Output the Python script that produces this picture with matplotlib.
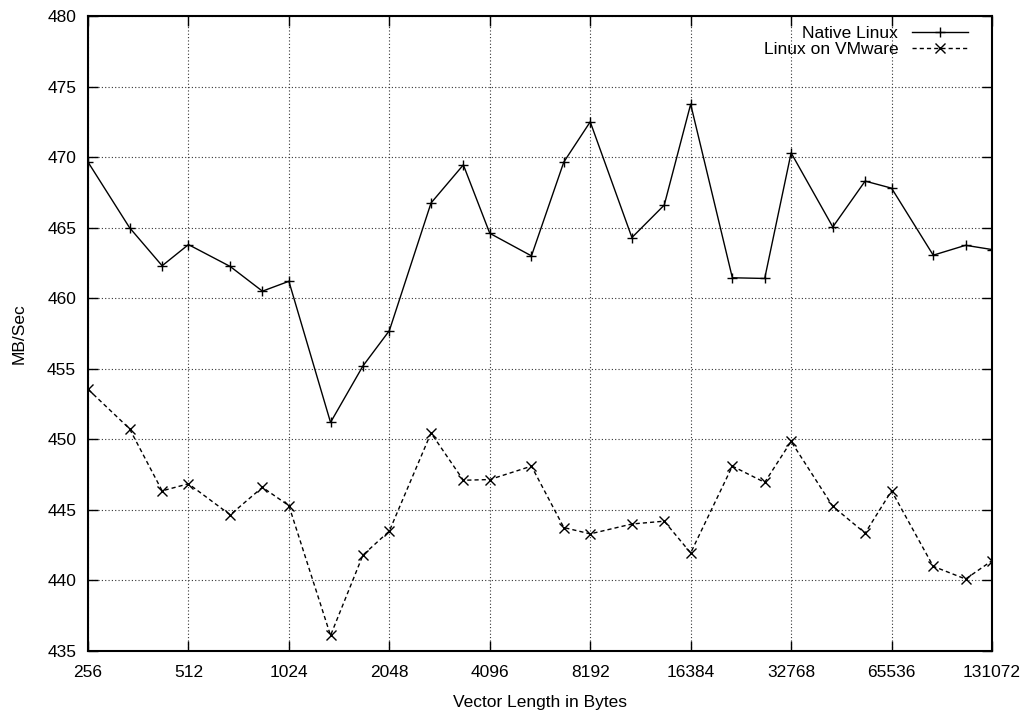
import numpy as np
import matplotlib
matplotlib.use("Agg")
import matplotlib.pyplot as plt
from matplotlib.ticker import FixedLocator, NullLocator

plt.rcParams["font.family"] = ["Liberation Sans", "DejaVu Sans"]

# vector lengths: each octave split into n, 4n/3, 5n/3
vec_len = [256, 341, 427, 512, 683, 853, 1024, 1365, 1707, 2048,
           2731, 3413, 4096, 5461, 6827, 8192, 10923, 13653, 16384,
           21845, 27307, 32768, 43691, 54613, 65536, 87381, 109227, 131072]

native_linux = [469.65, 465.0, 462.3, 463.8, 462.25, 460.5, 461.2, 451.2, 455.2, 457.7,
                466.75, 469.45, 464.6, 463.0, 469.65, 472.5, 464.3, 466.6, 473.75,
                461.45, 461.4, 470.3, 465.05, 468.3, 467.8, 463.05, 463.75, 463.45]

linux_vmware = [453.55, 450.75, 446.35, 446.85, 444.65, 446.6, 445.3, 436.1, 441.8, 443.5,
                450.45, 447.1, 447.15, 448.1, 443.75, 443.3, 444.0, 444.2, 441.95,
                448.1, 446.95, 449.85, 445.25, 443.35, 446.35, 441.0, 440.1, 441.4]

xticks = [256, 512, 1024, 2048, 4096, 8192, 16384, 32768, 65536, 131072]
yticks = np.arange(435, 481, 5)

fs = 12.5

fig = plt.figure(figsize=(10.28, 7.15), dpi=100)
ax = fig.add_axes([88 / 1028, 1 - 651 / 715, (992 - 88) / 1028, (651 - 16) / 715])

ax.plot(vec_len, native_linux, color="black", lw=1.0, marker="+", ms=7.5, mew=1.0,
        label="Native Linux")
ax.plot(vec_len, linux_vmware, color="black", lw=1.0, ls=(0, (3, 2.2)), marker="x", ms=6.5,
        mew=1.0, label="Linux on VMware")

ax.set_xscale("log", base=2)
ax.set_xlim(256, 131072)
ax.set_ylim(435, 480)
ax.xaxis.set_major_locator(FixedLocator(xticks))
ax.xaxis.set_minor_locator(NullLocator())
ax.set_xticklabels([str(v) for v in xticks])
ax.set_yticks(yticks)

ax.tick_params(axis="both", which="major", direction="in", length=7, width=1.0,
               top=True, right=True, labelsize=fs)
ax.tick_params(axis="x", pad=10)
ax.tick_params(axis="y", pad=8.5)
for s in ax.spines.values():
    s.set_linewidth(1.5)

ax.grid(True, which="major", color="#333333", ls=(0, (1, 2)), lw=0.8)

ax.set_xlabel("Vector Length in Bytes", fontsize=fs, labelpad=11)
ax.set_ylabel("MB/Sec", fontsize=fs, labelpad=15)

leg = ax.legend(loc="upper right", bbox_to_anchor=(0.979, 0.992), frameon=False,
                markerfirst=False, fontsize=fs, handlelength=3.2, borderaxespad=0,
                borderpad=0.3, labelspacing=0.05, handletextpad=0.8)

fig.savefig("out.png", dpi=100)
